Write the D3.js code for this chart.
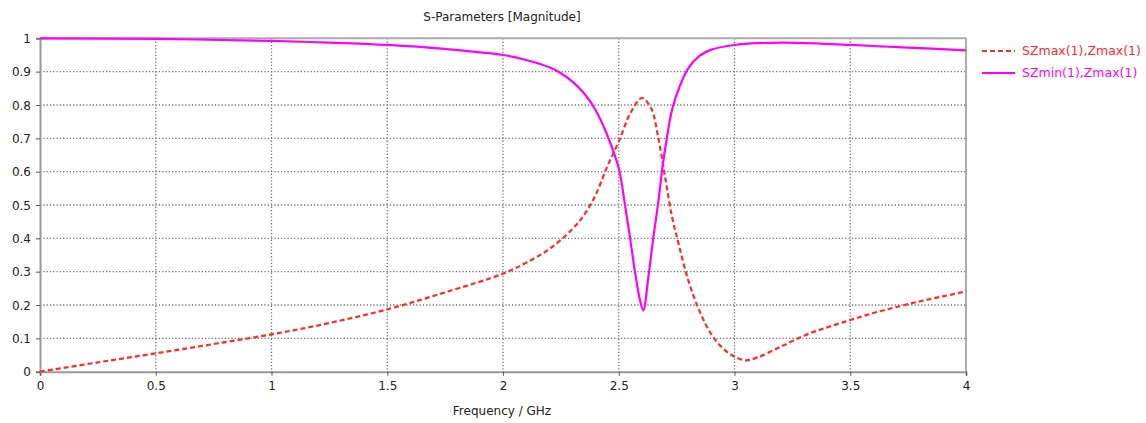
<!DOCTYPE html>
<html><head><meta charset="utf-8">
<script src="https://cdn.jsdelivr.net/npm/d3@7"></script>
<style>body{margin:0;background:#fff;} text{font-family:Tahoma,"DejaVu Sans",sans-serif;}</style>
</head><body>
<svg id="c" width="1146" height="423"></svg>
<script>
const xTicks = [0,0.5,1,1.5,2,2.5,3,3.5,4];
const yTicks = [0,0.1,0.2,0.3,0.4,0.5,0.6,0.7,0.8,0.9,1];
const seriesNames = ["SZmax(1),Zmax(1)","SZmin(1),Zmax(1)"];
const freqMax = [0,0.25,0.5,0.75,1.0,1.25,1.5,1.75,2.0,2.1,2.2,2.3,2.35,2.4,2.45,2.5,2.55,2.6,2.64,2.67,2.7,2.73,2.76,2.8,2.85,2.9,2.95,3.0,3.05,3.1,3.2,3.3,3.4,3.5,3.6,3.7,3.8,3.9,4.0];
const valMax  = [0,0.028,0.055,0.083,0.112,0.146,0.187,0.238,0.294,0.327,0.368,0.428,0.47,0.53,0.615,0.69,0.775,0.821,0.79,0.705,0.585,0.465,0.38,0.275,0.18,0.112,0.07,0.045,0.034,0.043,0.075,0.108,0.133,0.155,0.176,0.194,0.211,0.226,0.241];
const freqMin = [0,0.5,1.0,1.25,1.5,1.75,2.0,2.1,2.2,2.25,2.3,2.35,2.4,2.45,2.5,2.527,2.549,2.57,2.592,2.606,2.628,2.649,2.671,2.69,2.71,2.73,2.76,2.8,2.85,2.9,3.0,3.2,3.5,3.75,4.0];
const valMin  = [1.0,0.998,0.992,0.987,0.98,0.968,0.95,0.935,0.913,0.895,0.87,0.835,0.785,0.71,0.61,0.5,0.4,0.3,0.214,0.184,0.284,0.4,0.51,0.62,0.71,0.785,0.85,0.91,0.948,0.966,0.98,0.987,0.98,0.972,0.964];

const svg = d3.select("#c");
const L=40,R=966,T=38.3,B=371.7;
const x = d3.scaleLinear().domain([0,4]).range([L,R]);
const y = d3.scaleLinear().domain([0,1]).range([B,T]);

// grid
svg.append("g").selectAll("line").data(xTicks.slice(1,-1)).join("line")
  .attr("x1",d=>x(d)).attr("x2",d=>x(d)).attr("y1",T).attr("y2",B)
  .attr("stroke","#777").attr("stroke-width",1.3).attr("stroke-dasharray","1.3,2");
svg.append("g").selectAll("line").data(yTicks.slice(1,-1)).join("line")
  .attr("y1",d=>y(d)).attr("y2",d=>y(d)).attr("x1",L).attr("x2",R)
  .attr("stroke","#777").attr("stroke-width",1.3).attr("stroke-dasharray","1.3,2");

// frame
svg.append("line").attr("x1",L).attr("x2",R).attr("y1",T).attr("y2",T).attr("stroke","#aaa").attr("stroke-width",2);
svg.append("line").attr("x1",R).attr("x2",R).attr("y1",T).attr("y2",B).attr("stroke","#aaa").attr("stroke-width",2);

// axes
const xa = svg.append("g").attr("transform",`translate(0,${B})`)
  .call(d3.axisBottom(x).tickValues(xTicks).tickFormat(d3.format("")).tickSize(4).tickPadding(6));
const ya = svg.append("g").attr("transform",`translate(${L},0)`)
  .call(d3.axisLeft(y).tickValues(yTicks).tickFormat(d3.format("")).tickSize(4).tickPadding(5));
[xa,ya].forEach(a=>{
  a.select(".domain").attr("stroke","#999").attr("stroke-width",2);
  a.selectAll(".tick line").attr("stroke","#555");
  a.selectAll("text").attr("font-size",12).attr("fill","#222").style("font-family","Tahoma,'DejaVu Sans',sans-serif");
});
ya.selectAll("text").attr("dy","0.35em");

const line = d3.line().curve(d3.curveCatmullRom.alpha(0.5)).x(d=>x(d[0])).y(d=>y(d[1]));
svg.append("path").datum(d3.zip(freqMax,valMax)).attr("d",line)
  .attr("fill","none").attr("stroke","#ff2a2a").attr("stroke-width",2.2).attr("stroke-dasharray","5,3");
svg.append("path").datum(d3.zip(freqMin,valMin)).attr("d",line)
  .attr("fill","none").attr("stroke","#ff00ff").attr("stroke-width",2.2);

// titles
svg.append("text").attr("x",502).attr("y",21).attr("text-anchor","middle").attr("font-size",12).attr("fill","#222").text("S-Parameters [Magnitude]");
svg.append("text").attr("x",502).attr("y",415).attr("text-anchor","middle").attr("font-size",12).attr("fill","#222").text("Frequency / GHz");

// legend
const colors=["#ff2a2a","#ff00ff"];
const lg = svg.append("g");
seriesNames.forEach((n,i)=>{
  const yy = 51 + i*22;
  lg.append("line").attr("x1",982).attr("x2",1015).attr("y1",yy).attr("y2",yy)
    .attr("stroke",colors[i]).attr("stroke-width",2).attr("stroke-dasharray",i===0?"5,3":null);
  lg.append("text").attr("x",1022).attr("y",yy).attr("dy","0.35em").attr("font-size",12.5).attr("fill",colors[i]).text(n);
});
</script>
</body></html>
